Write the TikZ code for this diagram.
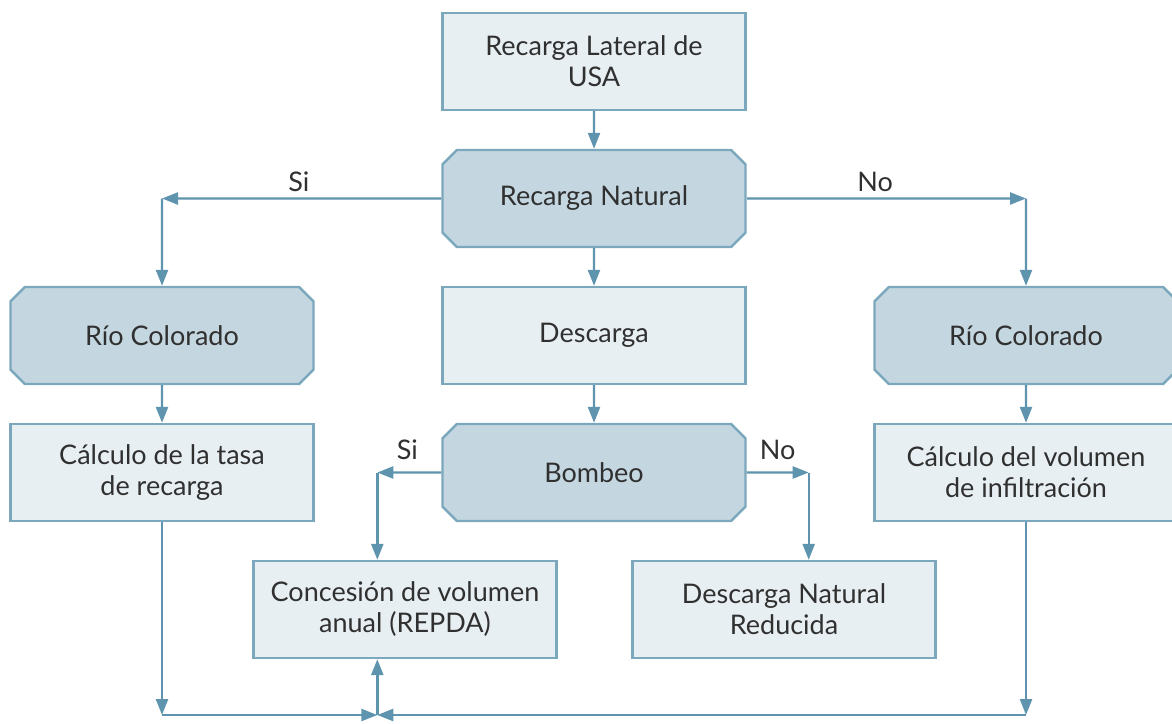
\documentclass[tikz,border=0pt]{standalone}
\usepackage{fontspec}
\setmainfont{Lato}
\usetikzlibrary{shapes.misc,arrows.meta,positioning,calc}
\definecolor{lcline}{HTML}{5E94AD}
\definecolor{lcedge}{HTML}{7CA8BE}
\definecolor{lcpale}{HTML}{E8EFF3}
\definecolor{lcdark}{HTML}{C4D6E0}
\definecolor{lctext}{HTML}{303030}

\begin{document}
\begin{tikzpicture}[%
    x=0.5pt, y=-0.5pt,                    % work in pixels of the sketch
    >={Triangle[length=8pt,width=6pt]},   % filled arrow heads
    node distance=68.5pt and 216pt,       % Global setup of box spacing
    every node/.style={font=\fontsize{13.5}{15.5}\selectfont, text=lctext}]
% -------------------------------------------------
% Box styles
\tikzset{
  base/.style={draw=lcedge, line width=1.2pt, on grid, align=center,
    minimum width=151.5pt, minimum height=48.5pt, inner sep=0pt},
  proc/.style={base, rectangle, fill=lcpale},
  test/.style={base, chamfered rectangle, chamfered rectangle xsep=3.6pt,
    chamfered rectangle ysep=3.6pt, fill=lcdark},
  % connector and label styles
  flow/.style={->, draw=lcline, line width=1.2pt},
  lbl/.style={above, inner sep=3pt}
}
\useasboundingbox (0,0) rectangle (1172,723);
% -------------------------------------------------
% Middle column
\node [proc] (usa) at (594,61.5) {Recarga Lateral de\\USA};
\node [test, below=of usa] (rn) {Recarga Natural};
\node [proc, below=of rn] (des) {Descarga};
\node [test, below=of des] (bomb) {Bombeo};

% Side columns
\node [test, left=of des] (rioL) {Río Colorado};
\node [test, right=of des] (rioR) {Río Colorado};
\node [proc, below=of rioL] (tasa) {Cálculo de la tasa\\de recarga};
\node [proc, below=of rioR] (infil) {Cálculo del volumen\\de infiltración};

% Bottom row
\node [proc, below left=68.5pt and 94.5pt of bomb] (conc)
  {Concesión de volumen\\anual (REPDA)};
\node [proc, below right=68.5pt and 95pt of bomb] (dnr)
  {Descarga Natural\\Reducida};

% -------------------------------------------------
% Corners of the connecting lines
\coordinate (cL) at (rioL |- rn);
\coordinate (cR) at (rioR |- rn);
\coordinate (bSi) at ($(bomb.west)+(-64,0)$);
\coordinate (bNo) at ($(bomb.east)+(62,0)$);
\coordinate (jn) at (bSi |- 0,715);
\coordinate (jL) at (tasa |- jn);
\coordinate (jR) at (infil |- jn);

% -------------------------------------------------
% Straight connections
\draw [flow] (usa) -- (rn);
\draw [flow] (rn) -- (des);
\draw [flow] (des) -- (bomb);
\draw [flow] (rioL) -- (tasa);
\draw [flow] (rioR) -- (infil);

% Branches with Si / No
\draw [flow] (rn) -- node [lbl, pos=0.51] {Si} (cL);
\draw [flow] (cL) -- (rioL);
\draw [flow] (rn) -- node [lbl, pos=0.46] {No} (cR);
\draw [flow] (cR) -- (rioR);
\draw [flow] (bomb) -- node [lbl, pos=0.53, yshift=3pt] {Si} (bSi);
\draw [flow] (bSi) -- (bSi |- conc.north);
\draw [flow] (bomb) -- node [lbl, pos=0.5, yshift=3pt] {No} (bNo);
\draw [flow] (bNo) -- (bNo |- dnr.north);

% Return lines along the bottom
\draw [flow] (tasa) -- (jL);
\draw [flow] (jL) -- (jn);
\draw [flow] (infil) -- (jR);
\draw [flow] (jR) -- (jn);
\draw [flow] (jn) -- (jn |- conc.south);
% -------------------------------------------------
\end{tikzpicture}
\end{document}
